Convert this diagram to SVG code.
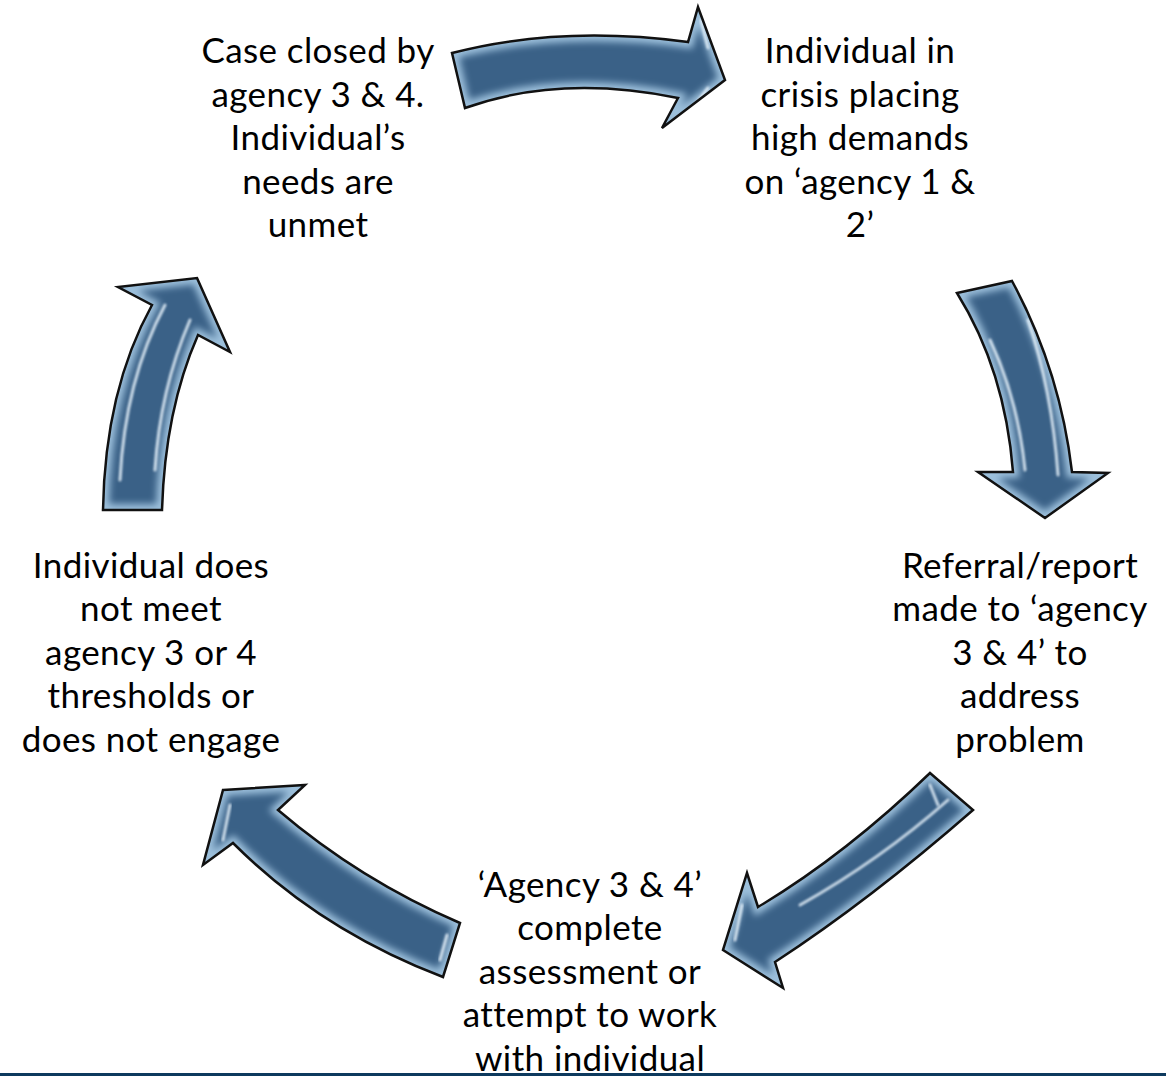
<svg xmlns="http://www.w3.org/2000/svg" width="1166" height="1076" viewBox="0 0 1166 1076">
  <style>
    .label { font-family: Lato, "Liberation Sans", sans-serif; font-size: 35px; letter-spacing: 0.4px; fill: #000; text-anchor: middle; }
    .arrow-body { fill: #3a6187; }
    .arrow-glow { fill: none; stroke: #9cc0dc; stroke-width: 12; filter: url(#soft); }
    .arrow-edge { fill: none; stroke: #111; stroke-width: 2.5; stroke-linejoin: miter; }
    .shine { fill: none; stroke: #e6f2fb; stroke-width: 3; stroke-linecap: round; filter: url(#softer); opacity: 0.85; }
  </style>
  <defs>
    <filter id="soft" x="-20%" y="-20%" width="140%" height="140%">
      <feGaussianBlur stdDeviation="3.5"/>
    </filter>
    <filter id="softer" x="-20%" y="-20%" width="140%" height="140%">
      <feGaussianBlur stdDeviation="0.8"/>
    </filter>
    <path id="a1" d="M452,53 Q560,25 688,42 L698,7 L725,80 L662,128 L678,98 Q560,74 465,108 Z"/>
    <path id="a2" d="M957,293 L1012,281 Q1060,370 1072,472 L1108,473 L1045,518 L978,472 L1013,472 Q1005,370 957,293 Z"/>
    <path id="a3" d="M930,773 L973,810 Q870,900 775,962 L783,988 L723,950 L747,873 L758,907 Q845,855 930,773 Z"/>
    <path id="a4" d="M223,790 L305,785 L278,810 Q360,880 460,923 L443,977 Q320,930 233,843 L203,865 Z"/>
    <path id="a5" d="M197,278 L230,352 L198,335 Q165,410 162,510 L103,510 Q105,390 152,305 L118,287 Z"/>
    <clipPath id="c1"><use href="#a1"/></clipPath>
    <clipPath id="c2"><use href="#a2"/></clipPath>
    <clipPath id="c3"><use href="#a3"/></clipPath>
    <clipPath id="c4"><use href="#a4"/></clipPath>
    <clipPath id="c5"><use href="#a5"/></clipPath>
  </defs>

  <rect width="1166" height="1076" fill="#fff"/>

  <!-- curved cycle arrows -->
  <g id="connectors">
    <g id="arrow-top">
      <use href="#a1" class="arrow-body"/>
      <use href="#a1" class="arrow-glow" clip-path="url(#c1)"/>
      <path class="shine" d="M701,20 L708,48" clip-path="url(#c1)"/>
      <path class="shine" d="M708,88 L690,112" clip-path="url(#c1)"/>
      <use href="#a1" class="arrow-edge"/>
    </g>
    <g id="arrow-right">
      <use href="#a2" class="arrow-body"/>
      <use href="#a2" class="arrow-glow" clip-path="url(#c2)"/>
      <path class="shine" d="M1028,320 Q1052,390 1058,475" clip-path="url(#c2)" opacity="0.4"/>
      <path class="shine" d="M990,340 Q1018,400 1025,470" clip-path="url(#c2)" opacity="0.35"/>
      <use href="#a2" class="arrow-edge"/>
    </g>
    <g id="arrow-bottom-right">
      <use href="#a3" class="arrow-body"/>
      <use href="#a3" class="arrow-glow" clip-path="url(#c3)"/>
      <path class="shine" d="M948,800 Q880,860 800,905" clip-path="url(#c3)" opacity="0.45"/>
      <path class="shine" d="M742,905 L735,940" clip-path="url(#c3)"/>
      <path class="shine" d="M930,785 L938,805" clip-path="url(#c3)"/>
      <use href="#a3" class="arrow-edge"/>
    </g>
    <g id="arrow-bottom-left">
      <use href="#a4" class="arrow-body"/>
      <use href="#a4" class="arrow-glow" clip-path="url(#c4)"/>
      <path class="shine" d="M230,805 L223,840" clip-path="url(#c4)"/>
      <path class="shine" d="M447,935 L440,960" clip-path="url(#c4)"/>
      <use href="#a4" class="arrow-edge"/>
    </g>
    <g id="arrow-left">
      <use href="#a5" class="arrow-body"/>
      <use href="#a5" class="arrow-glow" clip-path="url(#c5)"/>
      <path class="shine" d="M165,305 Q125,380 120,480" clip-path="url(#c5)"/>
      <path class="shine" d="M190,320 Q160,390 155,470" clip-path="url(#c5)"/>
      <use href="#a5" class="arrow-edge"/>
    </g>
  </g>

  <!-- cycle stages -->
  <g id="node-case-closed">
    <text class="label" x="318" y="63">Case closed by</text>
    <text class="label" x="318" y="107">agency 3 &amp; 4.</text>
    <text class="label" x="318" y="150">Individual’s</text>
    <text class="label" x="318" y="194">needs are</text>
    <text class="label" x="318" y="237">unmet</text>
  </g>
  <g id="node-crisis">
    <text class="label" x="860" y="63">Individual in</text>
    <text class="label" x="860" y="107">crisis placing</text>
    <text class="label" x="860" y="150">high demands</text>
    <text class="label" x="860" y="194">on ‘agency 1 &amp;</text>
    <text class="label" x="860" y="237">2’</text>
  </g>
  <g id="node-referral">
    <text class="label" x="1020" y="578">Referral/report</text>
    <text class="label" x="1020" y="621">made to ‘agency</text>
    <text class="label" x="1020" y="665">3 &amp; 4’ to</text>
    <text class="label" x="1020" y="708">address</text>
    <text class="label" x="1020" y="752">problem</text>
  </g>
  <g id="node-not-eligible">
    <text class="label" x="151" y="578">Individual does</text>
    <text class="label" x="151" y="621">not meet</text>
    <text class="label" x="151" y="665">agency 3 or 4</text>
    <text class="label" x="151" y="708">thresholds or</text>
    <text class="label" x="151" y="752">does not engage</text>
  </g>
  <g id="node-assessment">
    <text class="label" x="590" y="897">‘Agency 3 &amp; 4’</text>
    <text class="label" x="590" y="940">complete</text>
    <text class="label" x="590" y="984">assessment or</text>
    <text class="label" x="590" y="1027">attempt to work</text>
    <text class="label" x="590" y="1071">with individual</text>
  </g>

  <!-- footer rule -->
  <rect x="0" y="1073" width="1166" height="3" fill="#0d3a5e"/>
</svg>
